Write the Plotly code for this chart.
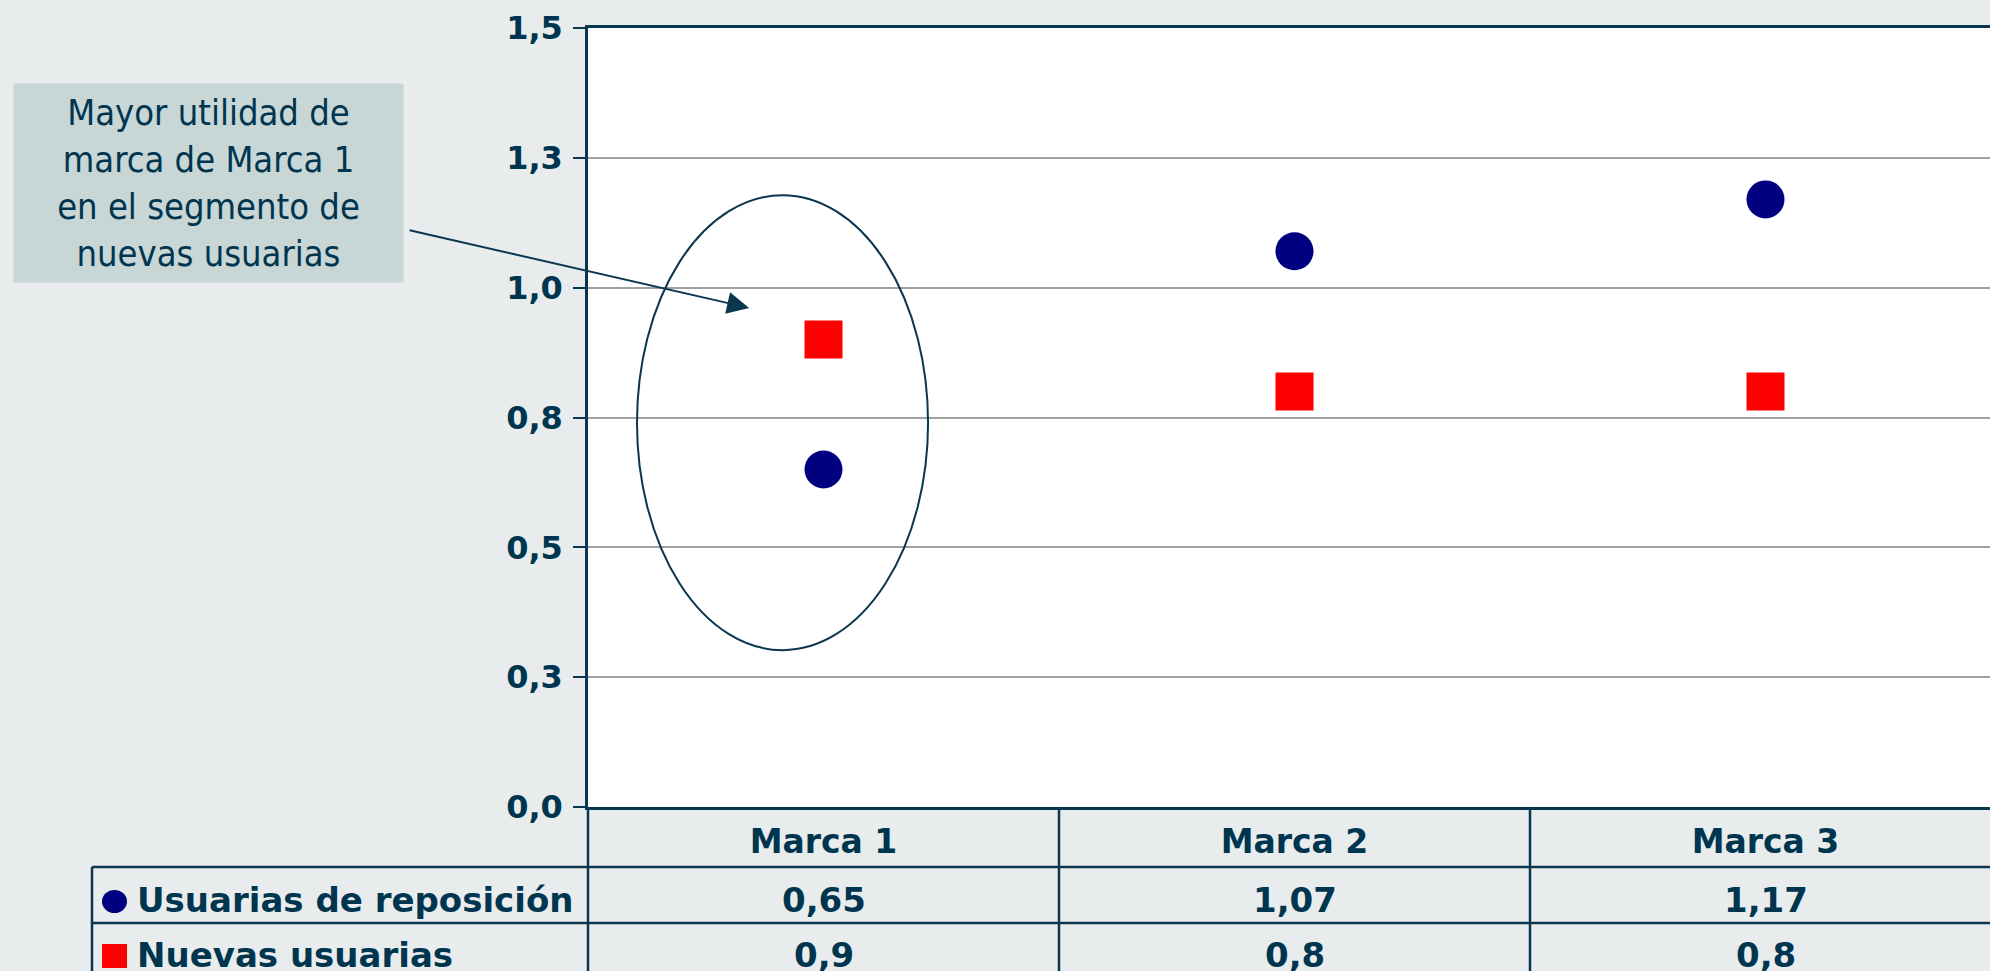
import plotly.graph_objects as go

# ---- data ----
categories = ["Marca 1", "Marca 2", "Marca 3"]
series_names = ["Usuarias de reposición", "Nuevas usuarias"]
reposicion = [0.65, 1.07, 1.17]
nuevas = [0.9, 0.8, 0.8]
tick_values = [0.0, 0.25, 0.5, 0.75, 1.0, 1.25, 1.5]
tick_labels = ["0,0", "0,3", "0,5", "0,8", "1,0", "1,3", "1,5"]
callout_text = "Mayor utilidad de<br>marca de Marca 1<br>en el segmento de<br>nuevas usuarias"

NAVY_TXT = "#00354F"
LINE = "#0A3650"
BG = "#E8ECED"
BOX = "#C8D6D6"
W, H = 1990, 971
L, R, T, B = 588, 0, 28, 164
PW, PH = W - L - R, H - T - B


def px_x(p):
    return (p - L) / PW


def px_y(p):
    return (H - B - p) / PH


def fmt(v):
    return ("%g" % v).replace(".", ",")


fig = go.Figure()
fig.add_trace(go.Scatter(
    x=categories, y=reposicion, mode="markers", name=series_names[0],
    marker=dict(symbol="circle", size=38, color="#000080", line=dict(width=0)),
    showlegend=False,
))
fig.add_trace(go.Scatter(
    x=categories, y=nuevas, mode="markers", name=series_names[1],
    marker=dict(symbol="square", size=38, color="#FF0000", line=dict(width=0)),
    showlegend=False,
))

shapes = []
# ellipse around Marca 1
shapes.append(dict(type="circle", xref="x", yref="y", x0=-0.396, x1=0.222, y0=0.302, y1=1.178,
                   line=dict(color=LINE, width=2)))
# table lines
line_style = dict(color=LINE, width=2.5)
for yy in (867, 923, 981):
    shapes.append(dict(type="line", xref="paper", yref="paper", x0=px_x(92), x1=1.0,
                       y0=px_y(yy), y1=px_y(yy), line=line_style))
shapes.append(dict(type="line", xref="paper", yref="paper", x0=px_x(92), x1=px_x(92),
                   y0=px_y(867), y1=px_y(990), line=line_style))
shapes.append(dict(type="line", xref="paper", yref="paper", x0=0, x1=0,
                   y0=0, y1=px_y(990), line=line_style))
for i in range(len(categories) - 1):
    shapes.append(dict(type="line", xref="x", yref="paper", x0=i + 0.5, x1=i + 0.5,
                       y0=0, y1=px_y(990), line=line_style))
# legend keys in the table
shapes.append(dict(type="circle", xref="paper", yref="paper", x0=px_x(102), x1=px_x(127),
                   y0=px_y(913), y1=px_y(890), fillcolor="#000080", line=dict(width=0)))
shapes.append(dict(type="rect", xref="paper", yref="paper", x0=px_x(102), x1=px_x(127),
                   y0=px_y(968), y1=px_y(944), fillcolor="#FF0000", line=dict(width=0)))

annotations = []
tfont = dict(family="DejaVu Sans", size=34, color=NAVY_TXT, weight="bold")
row_y = [px_y(900), px_y(955)]
for name, yy in zip(series_names, row_y):
    annotations.append(dict(text=name, xref="paper", yref="paper", x=px_x(135), y=yy,
                            xanchor="left", yanchor="middle", showarrow=False, font=tfont))
for vals, yy in zip([reposicion, nuevas], row_y):
    for c, v in zip(categories, vals):
        annotations.append(dict(text=fmt(v), xref="x", yref="paper", x=c, y=yy,
                                xanchor="center", yanchor="middle", showarrow=False, font=tfont))
# callout box
annotations.append(dict(text=callout_text, xref="paper", yref="paper",
                        x=px_x(208.5), y=px_y(183), xanchor="center", yanchor="middle",
                        width=389, height=198, bgcolor=BOX, borderpad=0, showarrow=False,
                        align="center",
                        font=dict(family="DejaVu Sans Condensed", size=36, color=NAVY_TXT)))
# arrow
annotations.append(dict(text="", xref="x", yref="y", x=-0.158, y=0.961,
                        axref="pixel", ayref="pixel", ax=-341, ay=-78,
                        showarrow=True, arrowhead=2, arrowsize=2.2, arrowwidth=2,
                        arrowcolor=LINE, standoff=0))

fig.update_layout(
    width=W, height=H,
    margin=dict(l=L, r=R, t=T, b=B),
    paper_bgcolor=BG, plot_bgcolor="white",
    shapes=shapes, annotations=annotations,
    xaxis=dict(type="category", categoryorder="array", categoryarray=categories,
               range=[-0.5, -0.5 + PW / 471.0], showgrid=False, zeroline=False,
               showline=True, linecolor=LINE, linewidth=2.5, mirror=True,
               ticks="", tickfont=dict(family="DejaVu Sans", size=33, color=NAVY_TXT, weight="bold"),
               ticklabelstandoff=4),
    yaxis=dict(range=[0, 1.5], tickvals=tick_values, ticktext=tick_labels,
               showgrid=True, gridcolor="#A0A0A0", gridwidth=2, zeroline=False,
               showline=True, linecolor=LINE, linewidth=2.5,
               ticks="outside", ticklen=12, tickwidth=2, tickcolor=LINE,
               tickfont=dict(family="DejaVu Sans", size=32, color=NAVY_TXT, weight="bold"),
               ticklabelstandoff=4),
)

fig.write_html("out.html")
